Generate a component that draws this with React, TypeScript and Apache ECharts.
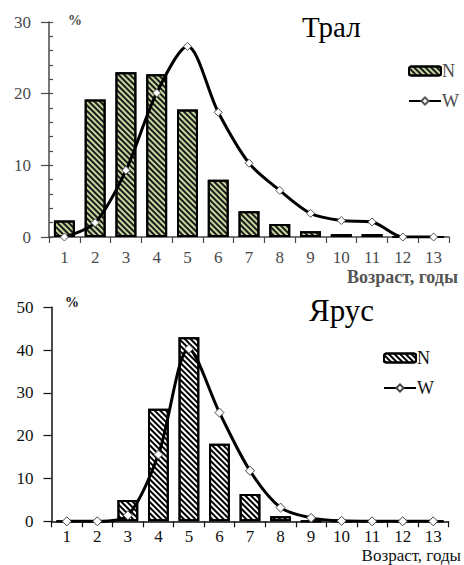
import React, { useEffect, useRef } from "react";
import * as echarts from "echarts";

const ages = ["1", "2", "3", "4", "5", "6", "7", "8", "9", "10", "11", "12", "13"];
const tralN = [2.3, 19.2, 23.0, 22.7, 17.8, 8.0, 3.6, 1.8, 0.8, 0.4, 0.4, 0, 0];
const tralW = [0, 2.0, 9.3, 20.1, 26.6, 17.4, 10.3, 6.5, 3.3, 2.3, 2.1, 0, 0];
const yarusN = [0, 0, 5.0, 26.3, 43.0, 18.1, 6.4, 1.2, 0, 0, 0, 0, 0];
const yarusW = [0, 0, 1.4, 15.6, 40.3, 25.4, 11.8, 3.2, 0.8, 0.1, 0, 0, 0];
const topTicks = { min: 0, max: 30, interval: 10 };
const bottomTicks = { min: 0, max: 50, interval: 10 };

const SERIF = "'Liberation Serif', 'Times New Roman', serif";

export default function App() {
  const ref = useRef<HTMLDivElement>(null);
  useEffect(() => {
    if (!ref.current) return;
    const chart = echarts.init(ref.current, null, { renderer: "svg" });
    const decal = (color: string) => ({
      symbol: "rect",
      symbolSize: 1,
      dashArrayX: [1, 0],
      dashArrayY: [1.4, 1.9],
      rotation: Math.PI / 4,
      color,
    });
    const xAxisBase = (gridIndex: number, color: string, margin: number) => ({
      type: "category",
      gridIndex,
      data: ages,
      boundaryGap: true,
      axisLine: { show: true, lineStyle: { color, width: 1.5 } },
      axisTick: { show: true, length: 6, lineStyle: { color, width: 1.2 } },
      axisLabel: { color, fontFamily: SERIF, fontSize: 17, lineHeight: 17, margin },
      splitLine: { show: false },
    });
    const yAxisBase = (gridIndex: number, color: string, t: any) => ({
      type: "value",
      gridIndex,
      min: t.min,
      max: t.max,
      interval: t.interval,
      axisLine: { show: true, lineStyle: { color, width: 1.5 } },
      axisTick: { show: true, length: 8, lineStyle: { color, width: 1.2 } },
      axisLabel: { color, fontFamily: SERIF, fontSize: 17, margin: 18 },
      splitLine: { show: false },
    });
    const legendBase = (left: number, top: number, color: string, data: any[]) => ({
      orient: "vertical",
      left,
      top,
      itemWidth: 32,
      itemHeight: 9,
      itemGap: 10,
      data,
      formatter: (n: string) => n.trim(),
      textStyle: { color, fontFamily: SERIF, fontSize: 18, lineHeight: 20, padding: [0, 0, 0, -4] },
      selectedMode: false,
    });
    const topColor = "#4a4a4a";
    const botColor = "#111";
    chart.setOption({
      animation: false,
      grid: [
        { left: 49, top: 22, width: 400, height: 215 },
        { left: 51.5, top: 307.3, width: 397, height: 214 },
      ],
      xAxis: [xAxisBase(0, topColor, 12), xAxisBase(1, botColor, 7)],
      yAxis: [
        yAxisBase(0, topColor, topTicks),
        {
          type: "value",
          gridIndex: 0,
          position: "left",
          min: topTicks.min,
          max: topTicks.max,
          interval: 2,
          axisLine: { show: false },
          axisTick: { show: true, inside: true, length: 4, lineStyle: { color: topColor, width: 1.2 } },
          axisLabel: { show: false },
          splitLine: { show: false },
        },
        yAxisBase(1, botColor, bottomTicks),
      ],
      legend: [
        legendBase(403, 56, topColor, [
          { name: "N", itemStyle: { borderWidth: 2, borderColor: "#000" } },
          { name: "W" },
        ]),
        legendBase(378, 343, botColor, [
          { name: "N ", itemStyle: { borderWidth: 2, borderColor: "#000" } },
          { name: "W " },
        ]),
      ],
      series: [
        {
          name: "N",
          type: "bar",
          xAxisIndex: 0,
          yAxisIndex: 0,
          data: tralN,
          barWidth: "68%",
          itemStyle: { color: "#c6d8a0", borderColor: "#000", borderWidth: 2, decal: decal("#1a1a1a") },
        },
        {
          name: "W",
          type: "line",
          xAxisIndex: 0,
          yAxisIndex: 0,
          data: tralW,
          smooth: 0.3,
          symbol: "diamond",
          symbolSize: 8,
          lineStyle: { color: "#000", width: 3 },
          itemStyle: { color: "#fff", borderColor: "#555", borderWidth: 1 },
          z: 5,
        },
        {
          name: "N ",
          type: "bar",
          xAxisIndex: 1,
          yAxisIndex: 2,
          data: yarusN,
          barWidth: "68%",
          itemStyle: { color: "#fff", borderColor: "#000", borderWidth: 2, decal: decal("#000") },
        },
        {
          name: "W ",
          type: "line",
          xAxisIndex: 1,
          yAxisIndex: 2,
          data: yarusW,
          smooth: 0.3,
          symbol: "diamond",
          symbolSize: 9,
          lineStyle: { color: "#000", width: 3 },
          itemStyle: { color: "#fff", borderColor: "#444", borderWidth: 1 },
          z: 5,
        },
      ],
      graphic: [
        { type: "text", left: 302, top: 12, style: { text: "Трал", font: `29px ${SERIF}`, fill: "#000" } },
        { type: "text", left: 68, top: 13, style: { text: "%", font: `bold 14px ${SERIF}`, fill: topColor } },
        { type: "text", right: 6, top: 268, style: { text: "Возраст, годы", font: `bold 18px ${SERIF}`, fill: "#555" } },
        { type: "text", left: 309, top: 295, style: { text: "Ярус", font: `31px ${SERIF}`, fill: "#000" } },
        { type: "text", left: 65, top: 295, style: { text: "%", font: `bold 14px ${SERIF}`, fill: botColor } },
        {
          type: "text",
          right: 3,
          top: 547,
          style: { text: "Возраст, годы", font: `17px ${SERIF}`, lineHeight: 17, fill: "#111" },
        },
      ],
    });
    return () => chart.dispose();
  }, []);
  return (
    <div
      ref={ref}
      style={{ position: "fixed", left: 0, top: 0, width: 464, height: 565, background: "#fff" }}
    />
  );
}
